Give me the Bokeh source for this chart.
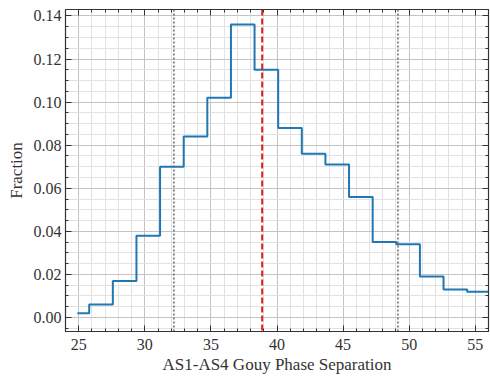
from bokeh.plotting import figure
from bokeh.models import SingleIntervalTicker, LinearAxis, PrintfTickFormatter, Span, Range1d
from bokeh.embed import file_html
from bokeh.resources import INLINE

# bin centres and fractions
bin_start = 24.9
bin_width = 1.787
fractions = [0.002, 0.006, 0.017, 0.038, 0.070, 0.084, 0.102, 0.136, 0.115,
             0.088, 0.076, 0.071, 0.056, 0.035, 0.034, 0.019, 0.013, 0.012, 0.012]
centers = [bin_start + i * bin_width for i in range(len(fractions))]
mean_sep = 38.88
low_sep = 32.2
high_sep = 49.15

FONT = "'Liberation Serif', serif"

p = figure(width=490, height=376, output_backend="svg", toolbar_location=None,
           x_range=Range1d(24.0, 56.0), y_range=Range1d(-0.0065, 0.143),
           min_border_left=65, min_border_right=2, min_border_top=9, min_border_bottom=45)
p.xaxis.visible = False
p.yaxis.visible = False

xt = SingleIntervalTicker(interval=5, num_minor_ticks=5)
yt = SingleIntervalTicker(interval=0.02, num_minor_ticks=4)

def style(ax, labels=True):
    ax.axis_line_color = "#333333"
    ax.axis_line_width = 1.2
    ax.major_tick_in = 6
    ax.major_tick_out = 0
    ax.minor_tick_in = 3
    ax.minor_tick_out = 0
    ax.major_tick_line_color = "#333333"
    ax.minor_tick_line_color = "#333333"
    ax.major_label_text_font = FONT
    ax.major_label_text_font_size = "16px"
    ax.major_label_text_color = "#333333"
    ax.axis_label_text_font = FONT
    ax.axis_label_text_font_style = "normal"
    ax.axis_label_text_font_size = "17px"
    ax.axis_label_text_color = "#333333"
    if not labels:
        ax.major_label_text_font_size = "0px"
        ax.major_label_text_alpha = 0

bx = LinearAxis(ticker=xt, formatter=PrintfTickFormatter(format="%d"), axis_label="AS1-AS4 Gouy Phase Separation")
style(bx)
bx.major_label_standoff = 7
bx.axis_label_standoff = 2
p.add_layout(bx, "below")
ly = LinearAxis(ticker=yt, formatter=PrintfTickFormatter(format="%.2f"), axis_label="Fraction")
style(ly)
ly.major_label_standoff = 4
ly.axis_label_standoff = 5
p.add_layout(ly, "left")
tx = LinearAxis(ticker=xt, formatter=PrintfTickFormatter(format="%d"))
style(tx, labels=False)
tx.major_label_standoff = 0
p.add_layout(tx, "above")
ry = LinearAxis(ticker=yt, formatter=PrintfTickFormatter(format="%.2f"))
style(ry, labels=False)
ry.major_label_standoff = 0
p.add_layout(ry, "right")

p.xgrid.ticker = xt
p.ygrid.ticker = yt
for g in (p.xgrid, p.ygrid):
    g.grid_line_color = "#c4c4c4"
    g.grid_line_width = 1
    g.minor_grid_line_color = "#e2e2e2"
    g.minor_grid_line_width = 1
p.outline_line_color = "#333333"

p.step(centers, fractions, mode="center", line_color="#1f77b4", line_width=2)

p.add_layout(Span(location=low_sep, dimension="height", line_color="#666666", line_dash="2 2", line_width=1.5))
p.add_layout(Span(location=high_sep, dimension="height", line_color="#666666", line_dash="2 2", line_width=1.5))
p.add_layout(Span(location=mean_sep, dimension="height", line_color="#e31a1c", line_dash="6 3", line_width=2))

open("out.html", "w").write(file_html(p, INLINE))
